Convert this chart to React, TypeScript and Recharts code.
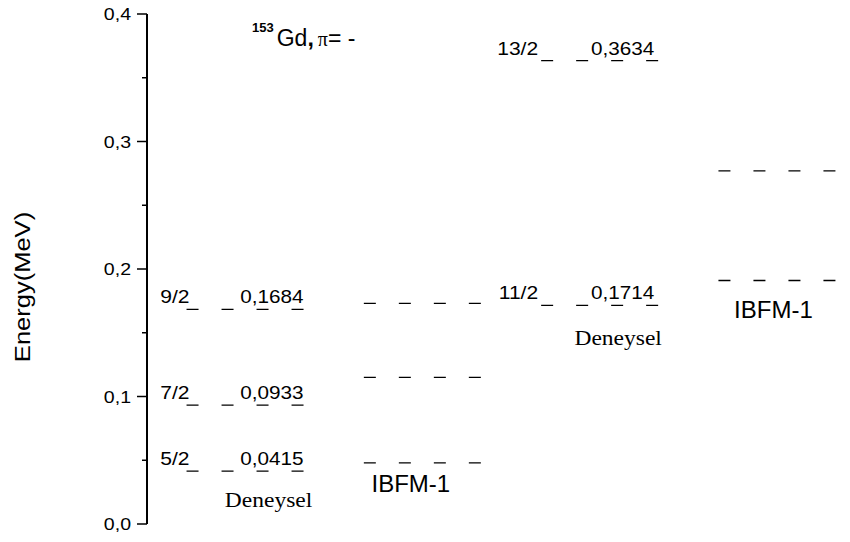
import React from 'react';
import { LineChart, Line, XAxis, YAxis } from 'recharts';

// ---- data ----
const columnCaptions = ['Deneysel', 'IBFM-1', 'Deneysel', 'IBFM-1'];
const expLowSpins = ['5/2', '7/2', '9/2'];
const expLowEnergies = [0.0415, 0.0933, 0.1684];
const ibfmLowEnergies = [0.048, 0.115, 0.173];
const expHighSpins = ['11/2', '13/2'];
const expHighEnergies = [0.1714, 0.3634];
const ibfmHighEnergies = [0.191, 0.277];
const yTickValues = [0, 0.05, 0.1, 0.15, 0.2, 0.25, 0.3, 0.35, 0.4];
const yMajorTicks = [0, 0.1, 0.2, 0.3, 0.4];

type Column = { energies: number[]; spins?: string[]; showValues: boolean };
const columns: Column[] = [
  { energies: expLowEnergies, spins: expLowSpins, showValues: true },
  { energies: ibfmLowEnergies, showValues: false },
  { energies: expHighEnergies, spins: expHighSpins, showValues: true },
  { energies: ibfmHighEnergies, showValues: false },
];

// ---- styles ----
const SANS = '"Liberation Sans", Arial, sans-serif';
const SERIF = '"Liberation Serif", "Times New Roman", serif';
const HALF = 0.33;
const spinDx = [3, 0, -3, 0];
const valueDx = [0, 0, -4, 0];
const captionOffset = [
  [82, 36],
  [47, 29],
  [77, 40],
  [55, 38],
];
const captionFont = [SERIF, SANS, SERIF, SANS];
const captionSize = [21, 24, 21, 24];
const captionScale = [1.12, 1, 1.12, 1];

const fmt = (v: number, d: number) => v.toFixed(d).replace('.', ',');

const StretchText = ({ x, y, anchor = 'start', size = 18, family = SANS, sx = 1.17, weight = 'normal', rotate = 0, children }: any) => (
  <g transform={`translate(${x},${y}) rotate(${rotate}) scale(${sx},1)`}>
    <text x={0} y={0} textAnchor={anchor} fontSize={size} fontFamily={family} fontWeight={weight} fill="#000">
      {children}
    </text>
  </g>
);

const YTick = (props: any) => {
  const { x, y, payload } = props;
  const v = payload.value as number;
  const major = yMajorTicks.some((t) => Math.abs(t - v) < 1e-9);
  return (
    <g>
      <line x1={x - (major ? 10 : 5)} x2={x} y1={y} y2={y} stroke="#000" strokeWidth={1.5} />
      {major && (
        <StretchText x={x - 16} y={y + 6} anchor="end" size={17} sx={1.15}>
          {fmt(v, 1)}
        </StretchText>
      )}
    </g>
  );
};

const makeLabel = (colIdx: number, energy: number, spin: string | undefined, showValue: boolean, isLowest: boolean) =>
  (props: any) => {
    const x = props.x ?? props.viewBox?.x;
    const y = props.y ?? props.viewBox?.y;
    const role = props.payload?.role ?? (props.index === 0 ? 'start' : 'end');
    if (x == null || y == null) return <g />;
    if (role === 'start') {
      return (
        <g>
          {spin && (
            <StretchText x={x + spinDx[colIdx]} y={y - 6} anchor="end">
              {spin}
            </StretchText>
          )}
          {isLowest && (
            <StretchText
              x={x + captionOffset[colIdx][0]}
              y={y + captionOffset[colIdx][1]}
              anchor="middle"
              size={captionSize[colIdx]}
              family={captionFont[colIdx]}
              sx={captionScale[colIdx]}
            >
              {columnCaptions[colIdx]}
            </StretchText>
          )}
        </g>
      );
    }
    if (showValue) {
      return (
        <StretchText x={x + valueDx[colIdx]} y={y - 6} anchor="end" sx={1.15}>
          {fmt(energy, 4)}
        </StretchText>
      );
    }
    return <g />;
  };

const YLabel = (props: any) => {
  const vb = props.viewBox || { y: 14, height: 510 };
  const cy = vb.y + vb.height / 2 + 18;
  return (
    <StretchText x={30} y={cy} anchor="middle" size={22} sx={1.16} rotate={-90}>
      Energy(MeV)
    </StretchText>
  );
};

export default function App() {
  const series: React.ReactNode[] = [];
  columns.forEach((col, ci) => {
    const minE = Math.min(...col.energies);
    col.energies.forEach((e, li) => {
      const data = [
        { x: ci - HALF, y: e, role: 'start' },
        { x: ci + HALF, y: e, role: 'end' },
      ];
      series.push(
        <Line
          key={`c${ci}-l${li}`}
          data={data}
          dataKey="y"
          stroke="#000"
          strokeWidth={1.3}
          strokeDasharray="12 23"
          dot={false}
          activeDot={false}
          isAnimationActive={false}
          label={makeLabel(ci, e, col.spins ? col.spins[li] : undefined, col.showValues, e === minE)}
        />
      );
    });
  });

  return (
    <div style={{ position: 'absolute', left: 0, top: 0, background: '#fff' }}>
      <LineChart width={850} height={542} margin={{ top: 14, right: 0, bottom: 18, left: 87 }}>
        <XAxis
          type="number"
          dataKey="x"
          domain={[-0.553, 3.412]}
          allowDataOverflow
          tick={false}
          tickLine={false}
          axisLine={{ stroke: '#000', strokeWidth: 2 }}
          height={0}
        />
        <YAxis
          type="number"
          domain={[0, 0.4]}
          ticks={yTickValues}
          interval={0}
          tick={<YTick />}
          tickLine={false}
          tickSize={0}
          tickMargin={0}
          width={60}
          axisLine={{ stroke: '#000', strokeWidth: 2 }}
          label={YLabel}
        />
        {series}
        <text x={252} y={46} fontFamily={SANS} fill="#000">
          <tspan fontSize={13} fontWeight="bold" dy={-14}>153</tspan>
          <tspan fontSize={23} dx={3} dy={14}>Gd</tspan>
          <tspan fontSize={23} fontWeight="bold">,</tspan>
          <tspan fontSize={20} fontFamily={SERIF} dx={4}>π</tspan>
          <tspan fontSize={23}>= -</tspan>
        </text>
      </LineChart>
    </div>
  );
}
